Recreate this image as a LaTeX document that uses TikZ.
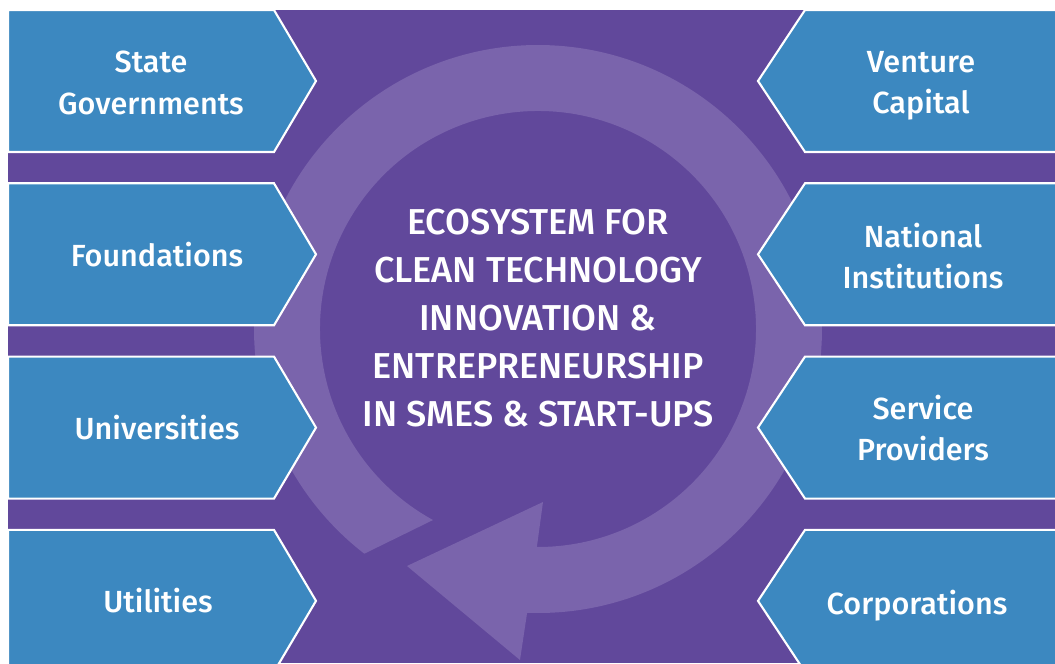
\documentclass[tikz,border=0pt]{standalone}
\usepackage{fontspec}
\setmainfont{Fira Sans Medium}
\usetikzlibrary{calc}
\definecolor{bgpurple}{RGB}{97,72,155}
\definecolor{ringpurple}{RGB}{122,100,172}
\definecolor{boxblue}{RGB}{60,136,192}
\tikzset{%
	sidebox/.style   = {fill=boxblue, draw=white, line width=1.2pt},
	boxtext/.style   = {text=white, align=center, font=\fontsize{17.4}{23.5}\selectfont},
	centertext/.style= {text=white, align=center, font=\fontsize{20.5}{27.2}\selectfont},
}

\begin{document}
\begin{tikzpicture}[x=0.02cm,y=0.02cm]
	\useasboundingbox (0,0) rectangle (1055,663);
	\fill[white] (0,0) rectangle (1055,663);
	\fill[bgpurple] (8,0) rectangle (1055,653);
	
	% circular arrow
	\fill[ringpurple,shift={(538,334)}] (241.2:218) arc[start angle=241.2, end angle=-90.3, radius=218] -- (5,-173) -- (-131,-237) -- (-18,-331) -- (-92.2:284) arc[start angle=-92.2, end angle=232.3, radius=284] -- cycle;
	
	\foreach \i [evaluate=\i as \yt using 653-173.3*\i] in {0,...,3} \draw[sidebox] (8,\yt) -- (274,\yt) -- (316,\yt-71) -- (274,\yt-142) -- (8,\yt-142) -- cycle;
	
	\foreach \i [evaluate=\i as \yt using 653-173.3*\i] in {0,...,3} \draw[sidebox] (1060,\yt) -- (805,\yt) -- (758,\yt-71) -- (805,\yt-142) -- (1060,\yt-142) -- cycle;
	
	\node[boxtext] (stategov) at (151,580) {State\\Governments};
	\node[boxtext] (foundations) at (157,408.7) {Foundations};
	\node[boxtext] (universities) at (157,235.3) {Universities};
	\node[boxtext] (utilities) at (158,62) {Utilities};
	
	\node[boxtext] (venture) at (921,577) {Venture\\Capital};
	\node[boxtext] (national) at (923,407) {National\\Institutions};
	\node[boxtext] (service) at (923,235.3) {Service\\Providers};
	\node[boxtext] (corporations) at (917,57) {Corporations};
	
	\node[centertext] (ecosystem) at (538,345) {ECOSYSTEM FOR\\CLEAN TECHNOLOGY\\INNOVATION \&\\ENTREPRENEURSHIP\\IN SMES \& START-UPS};
\end{tikzpicture}
\end{document}
